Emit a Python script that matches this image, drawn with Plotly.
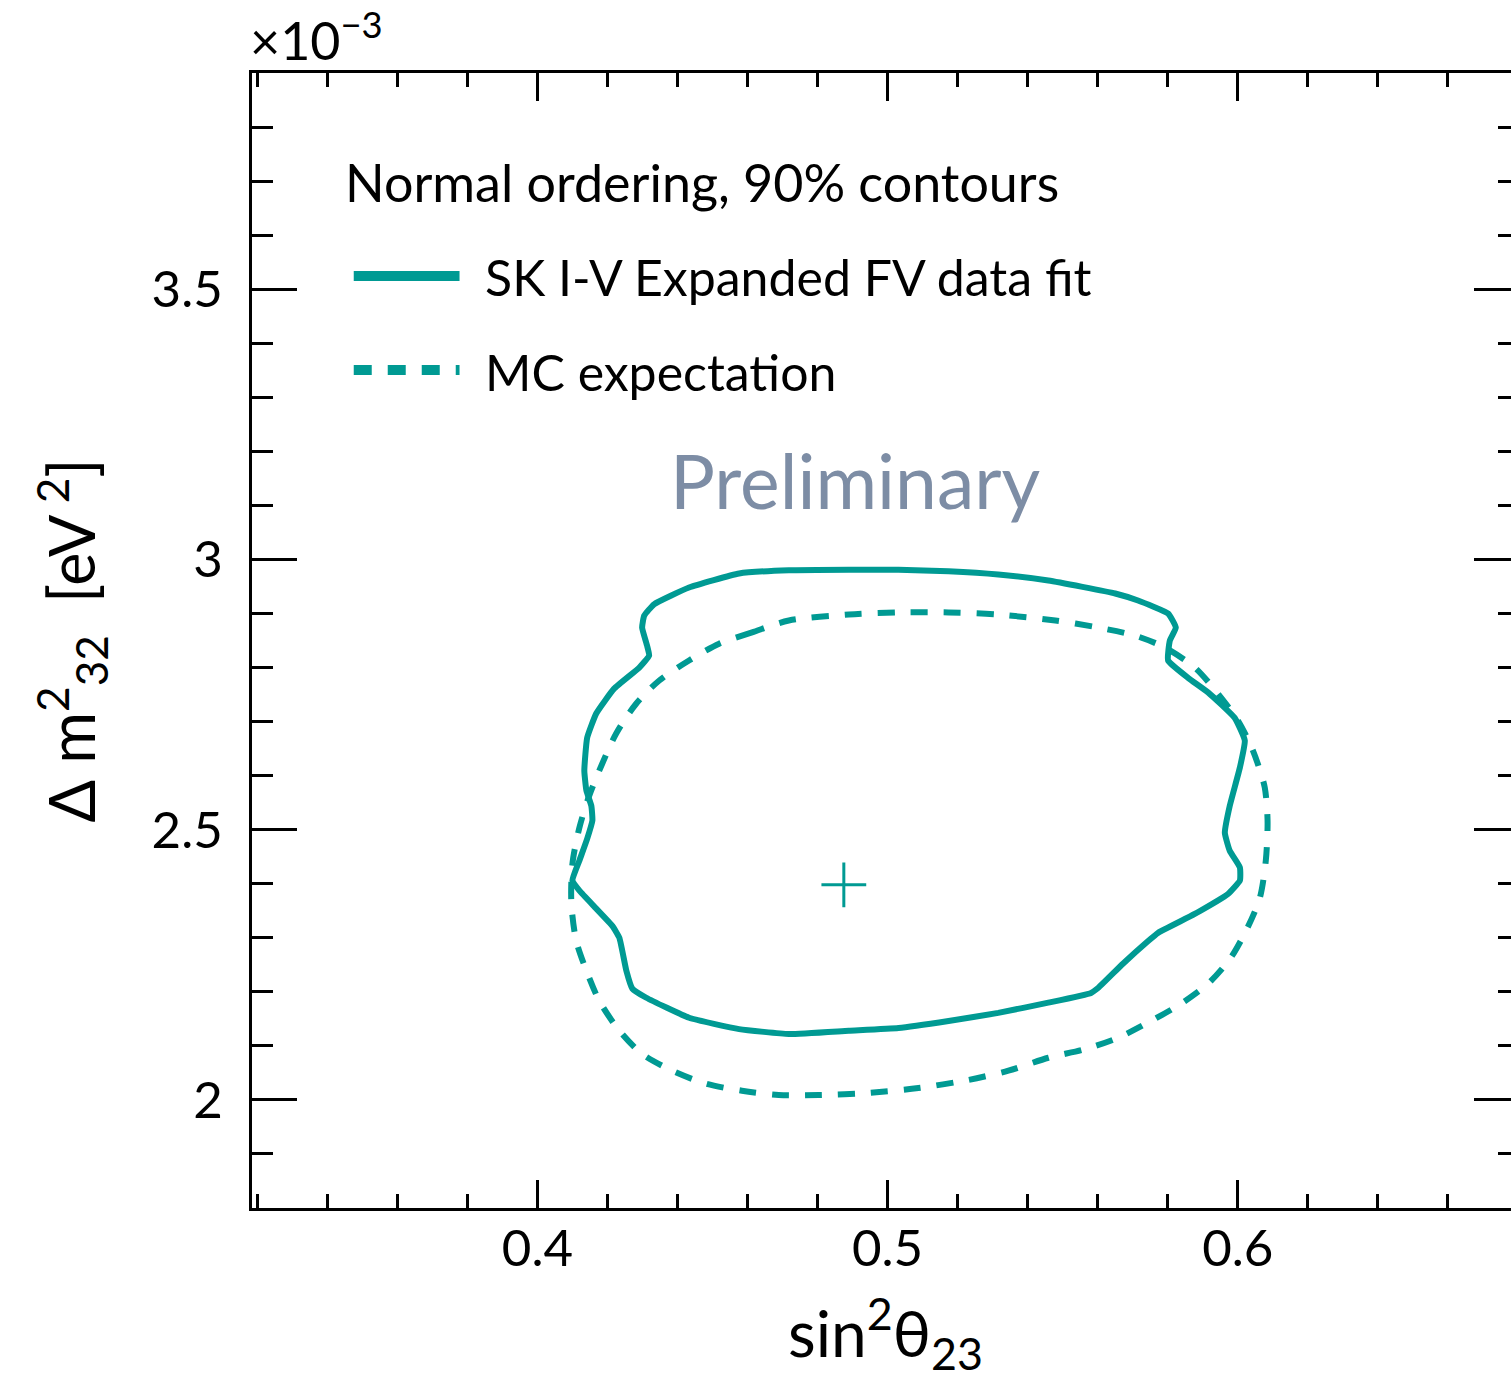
import plotly.graph_objects as go

# ---- data (sin^2 theta23, delta m^2_32 in units of 1e-3 eV^2) ----
fit_x = [0.4718, 0.4576, 0.4433, 0.4333, 0.4305, 0.4299, 0.4313, 0.4319, 0.4291, 0.4219,
         0.4168, 0.4142, 0.4134, 0.4140, 0.4154, 0.4157, 0.4142, 0.4120, 0.4100, 0.4120,
         0.4168, 0.4214, 0.4234, 0.4254, 0.4271, 0.4311, 0.4433, 0.4576, 0.4718, 0.4889,
         0.5031, 0.5174, 0.5316, 0.5459, 0.5581, 0.5601, 0.5672, 0.5744, 0.5772, 0.5877,
         0.5972, 0.6006, 0.6006, 0.5977, 0.5963, 0.5977, 0.6006, 0.6020, 0.5991, 0.5915,
         0.5858, 0.5801, 0.5806, 0.5823, 0.5801, 0.5715, 0.5650, 0.5459, 0.5316, 0.5174,
         0.5031, 0.4889]
fit_y = [2.980, 2.974, 2.948, 2.917, 2.896, 2.874, 2.841, 2.822, 2.800, 2.761,
         2.715, 2.670, 2.609, 2.572, 2.544, 2.517, 2.483, 2.443, 2.406, 2.387,
         2.354, 2.322, 2.300, 2.239, 2.206, 2.189, 2.152, 2.131, 2.122, 2.128,
         2.133, 2.146, 2.161, 2.180, 2.198, 2.207, 2.252, 2.294, 2.309, 2.344,
         2.381, 2.406, 2.430, 2.461, 2.494, 2.544, 2.615, 2.665, 2.707, 2.754,
         2.781, 2.813, 2.850, 2.874, 2.900, 2.924, 2.937, 2.961, 2.972, 2.978,
         2.981, 2.981]

mc_x = [0.4718, 0.4613, 0.4519, 0.4433, 0.4348, 0.4282, 0.4225, 0.4185, 0.4148, 0.4120,
        0.4100, 0.4097, 0.4111, 0.4140, 0.4177, 0.4234, 0.4299, 0.4385, 0.4481, 0.4584,
        0.4689, 0.4803, 0.4946, 0.5088, 0.5231, 0.5345, 0.5459, 0.5564, 0.5658, 0.5752,
        0.5838, 0.5915, 0.5980, 0.6028, 0.6063, 0.6080, 0.6085, 0.6077, 0.6057, 0.6037,
        0.6000, 0.5943, 0.5877, 0.5792, 0.5707, 0.5601, 0.5479, 0.5316, 0.5174, 0.5031,
        0.4889]
mc_y = [2.887, 2.865, 2.844, 2.813, 2.776, 2.733, 2.678, 2.622, 2.563, 2.504,
        2.437, 2.363, 2.294, 2.239, 2.183, 2.128, 2.085, 2.054, 2.030, 2.017,
        2.009, 2.009, 2.013, 2.022, 2.037, 2.054, 2.078, 2.094, 2.115, 2.146,
        2.178, 2.215, 2.263, 2.319, 2.374, 2.443, 2.517, 2.578, 2.622, 2.656,
        2.702, 2.752, 2.800, 2.837, 2.859, 2.874, 2.887, 2.898, 2.902, 2.902,
        2.898]

best_x = [0.4875]
best_y = [2.398]

x_range = [0.3185, 0.6803]
y_range = [1.8, 3.9]

TEAL = "#009a93"
FONT = "Lato"

fig = go.Figure()
fig.add_trace(go.Scatter(
    x=fit_x + fit_x[:1], y=fit_y + fit_y[:1], mode="lines",
    name="SK I-V Expanded FV data fit",
    line=dict(color=TEAL, width=6, shape="spline", smoothing=0.4),
    showlegend=False))
fig.add_trace(go.Scatter(
    x=mc_x + mc_x[:1], y=mc_y + mc_y[:1], mode="lines",
    name="MC expectation",
    line=dict(color=TEAL, width=6, dash="17px,16px", shape="spline", smoothing=0.8),
    showlegend=False))
fig.add_trace(go.Scatter(
    x=best_x, y=best_y, mode="markers", name="best fit",
    marker=dict(symbol="cross-thin", size=32, line=dict(color=TEAL, width=3)),
    showlegend=False))

axis_common = dict(
    showline=True, linewidth=3, linecolor="black", mirror="ticks",
    ticks="inside", tickwidth=3, tickcolor="black",
    showgrid=False, zeroline=False,
    tickfont=dict(family=FONT, size=51, color="black"),
)

fig.update_xaxes(
    **axis_common, range=x_range, dtick=0.1, tick0=0, ticklen=28,
    ticklabelstandoff=-6,
    minor=dict(ticks="inside", ticklen=14, tickwidth=3, tickcolor="black",
               dtick=0.02, tick0=0, showgrid=False),
    title=dict(text="sin<sup>2</sup>θ<sub>23</sub>",
               font=dict(family=FONT, size=64, color="black"), standoff=36),
)
fig.update_yaxes(
    **axis_common, range=y_range, dtick=0.5, tick0=0, ticklen=45,
    ticklabelstandoff=16,
    minor=dict(ticks="inside", ticklen=21, tickwidth=3, tickcolor="black",
               dtick=0.1, tick0=0, showgrid=False),
    title=dict(text="Δ m<sup>2</sup><sub>32</sub>  [eV<sup> 2</sup>]",
               font=dict(family=FONT, size=63, color="black"), standoff=36),
)

annotations = [
    dict(text="×10<sup>−3</sup>", xref="paper", yref="paper", x=-0.003, y=1.0,
         xanchor="left", yanchor="bottom", showarrow=False,
         font=dict(family=FONT, size=52, color="black")),
    dict(text="Normal ordering, 90% contours", xref="paper", yref="paper",
         x=0.0717, y=0.904, xanchor="left", yanchor="middle", showarrow=False,
         font=dict(family=FONT, size=52, color="black")),
    dict(text="SK I-V Expanded FV data fit", xref="paper", yref="paper",
         x=0.1827, y=0.820, xanchor="left", yanchor="middle", showarrow=False,
         font=dict(family=FONT, size=50, color="black")),
    dict(text="MC expectation", xref="paper", yref="paper",
         x=0.1827, y=0.7366, xanchor="left", yanchor="middle", showarrow=False,
         font=dict(family=FONT, size=50, color="black")),
    dict(text="Preliminary", xref="paper", yref="paper",
         x=0.4756, y=0.6414, xanchor="center", yanchor="middle", showarrow=False,
         font=dict(family=FONT, size=75, color="#7d8da5")),
]

shapes = [
    dict(type="line", xref="paper", yref="paper", x0=0.0803, x1=0.1638,
         y0=0.8211, y1=0.8211, line=dict(color=TEAL, width=10)),
    dict(type="line", xref="paper", yref="paper", x0=0.0803, x1=0.1638,
         y0=0.7383, y1=0.7383, line=dict(color=TEAL, width=10, dash="18px,16px")),
]

fig.update_layout(
    width=1526, height=1386,
    margin=dict(l=252, r=4, t=73, b=178),
    paper_bgcolor="white", plot_bgcolor="white",
    font=dict(family=FONT, color="black"),
    annotations=annotations, shapes=shapes,
)

fig.write_html("out.html",
               post_script="document.body.style.overflow='hidden';"
                           "document.documentElement.style.overflow='hidden';")
